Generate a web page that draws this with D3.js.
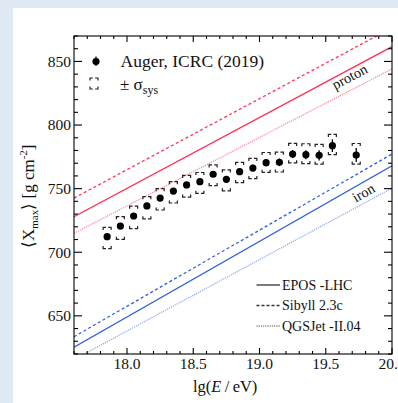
<!DOCTYPE html>
<html><head><meta charset="utf-8">
<script src="https://cdn.jsdelivr.net/npm/d3@7"></script>
<style>
html,body{margin:0;padding:0;background:#dfe9f4;overflow:hidden;}
svg{display:block;}
text{font-family:"Liberation Serif","Times New Roman",serif;fill:#111;}
</style></head>
<body>
<svg id="chart" width="398" height="403"></svg>
<script>
// ---- data ----
const lgE   = [17.85,17.95,18.05,18.15,18.25,18.35,18.45,18.55,18.65,18.75,18.85,18.95,19.05,19.15,19.25,19.35,19.45,19.55,19.73];
const xmax  = [712.2,720.6,728.5,736.4,742.6,748.1,752.9,755.5,761.3,757.3,763.3,766.2,770.4,770.7,777.2,776.7,776.2,783.8,776.4];
const stat  = [2.0,1.6,1.4,1.3,1.3,1.4,1.5,1.7,1.9,2.1,2.3,2.5,2.7,3.0,3.2,3.5,4.0,5.0,5.5];
const sysUp = [7.4,7.4,7.8,7.4,7.4,7.4,7.5,7.2,7.4,7.4,7.4,7.6,8.0,8.0,8.4,8.6,8.6,8.9,9.1];
const sysDn = [9.4,10.5,10.0,10.2,9.4,9.4,9.6,9.2,9.0,9.0,8.6,8.4,7.6,7.6,7.0,7.0,7.0,7.0,7.1];

const modelE = [17.6, 20.0];
const protonEPOS   = [728.0, 861.6];
const protonSibyll = [742.6, 876.5];
const protonQGS    = [714.9, 844.1];
const ironEPOS     = [625.3, 768.0];
const ironSibyll   = [633.6, 777.2];
const ironQGS      = [615.6, 750.4];

const xTicksMajor = [18.0,18.5,19.0,19.5,20.0];
const yTicksMajor = [650,700,750,800,850];
const legendModels = ["EPOS -LHC","Sibyll 2.3c","QGSJet -II.04"];

// ---- layout ----
const svg = d3.select("#chart");
const L=74, T=36, R=392, B=354;
svg.append("rect").attr("x",13).attr("y",8).attr("width",398-13).attr("height",403-8).attr("fill","#fff");

const x = d3.scaleLinear().domain([17.6,20.0]).range([L,R]);
const y = d3.scaleLinear().domain([620,870]).range([B,T]);

svg.append("clipPath").attr("id","clip").append("rect").attr("x",L).attr("y",T).attr("width",R-L).attr("height",B-T);

const red="#ff3358", redL="#ff8a9c", blue="#2f5fe0", blueL="#93aaf0";
const models = [
  {v:protonEPOS,c:red,d:null},
  {v:protonSibyll,c:red,d:"3,2.5"},
  {v:protonQGS,c:redL,d:"1.2,1"},
  {v:ironEPOS,c:blue,d:null},
  {v:ironSibyll,c:blue,d:"3,2.5"},
  {v:ironQGS,c:blueL,d:"1.2,1"}
];
const line = d3.line().x(d=>x(d[0])).y(d=>y(d[1]));
const g = svg.append("g").attr("clip-path","url(#clip)");
models.forEach(m=>{
  g.append("path").attr("d",line(modelE.map((e,i)=>[e,m.v[i]])))
   .attr("fill","none").attr("stroke",m.c).attr("stroke-width",1.3)
   .attr("stroke-dasharray",m.d);
});

// model labels
function slopeAngle(v){
  const dx=x(modelE[1])-x(modelE[0]), dy=y(v[1])-y(v[0]);
  return Math.atan2(dy,dx)*180/Math.PI;
}
svg.append("text").attr("transform",`translate(352,81) rotate(${slopeAngle(protonEPOS)})`)
  .attr("text-anchor","middle").attr("font-size",14.5).text("proton");
svg.append("text").attr("transform",`translate(366,197) rotate(${slopeAngle(ironEPOS)})`)
  .attr("text-anchor","middle").attr("font-size",14.5).text("iron");

// data: sys brackets
function bracket(sel, cx, yt, yb){
  const w=4, h=2.6, a=2.9;
  sel.append("path").attr("d",
    `M${cx-w},${yt+h}V${yt}H${cx-w+a} M${cx+w-a},${yt}H${cx+w}V${yt+h}`+
    `M${cx-w},${yb-h}V${yb}H${cx-w+a} M${cx+w-a},${yb}H${cx+w}V${yb-h}`);
}
const sysG = svg.append("g").attr("stroke","#222").attr("stroke-width",1.2).attr("fill","none");
lgE.forEach((e,i)=>{
  bracket(sysG, x(e), y(xmax[i]+sysUp[i]), y(xmax[i]-sysDn[i]));
});
// stat errors
svg.append("g").selectAll("line").data(lgE).join("line")
  .attr("x1",d=>x(d)).attr("x2",d=>x(d))
  .attr("y1",(d,i)=>y(xmax[i]+stat[i])).attr("y2",(d,i)=>y(xmax[i]-stat[i]))
  .attr("stroke","#000").attr("stroke-width",1.3);
svg.append("g").selectAll("circle").data(lgE).join("circle")
  .attr("cx",d=>x(d)).attr("cy",(d,i)=>y(xmax[i])).attr("r",3.6).attr("fill","#000");

// ---- axes ----
const ax = svg.append("g").attr("stroke","#000").attr("stroke-width",1.1);
ax.append("rect").attr("x",L).attr("y",T).attr("width",R-L).attr("height",B-T).attr("fill","none");
const xMinor = d3.range(176,201).map(d=>d/10);
xMinor.forEach(v=>{
  const major = Math.abs(v*2-Math.round(v*2))<1e-6;
  const len = major?6:3, px=x(v);
  ax.append("line").attr("x1",px).attr("x2",px).attr("y1",B).attr("y2",B-len);
  ax.append("line").attr("x1",px).attr("x2",px).attr("y1",T).attr("y2",T+len);
});
const yMinor = d3.range(620,871,10);
yMinor.forEach(v=>{
  const major = v%50===0;
  const len = major?8:4, py=y(v);
  ax.append("line").attr("x1",L).attr("x2",L+len).attr("y1",py).attr("y2",py);
  ax.append("line").attr("x1",R).attr("x2",R-len).attr("y1",py).attr("y2",py);
});
svg.append("g").selectAll("text").data(xTicksMajor).join("text")
  .attr("x",d=>x(d)).attr("y",369).attr("text-anchor","middle").attr("font-size",15.5)
  .text(d=>d.toFixed(1));
svg.append("g").selectAll("text").data(yTicksMajor).join("text")
  .attr("x",71).attr("y",d=>y(d)+5.3).attr("text-anchor","end").attr("font-size",15.5)
  .text(d=>d);

// axis titles
const xt = svg.append("text").attr("x",193).attr("y",392).attr("font-size",16.5);
xt.append("tspan").text("lg(");
xt.append("tspan").attr("font-style","italic").text("E");
xt.append("tspan").text("\u2009/\u2009eV)");
const yt = svg.append("text").attr("transform","translate(34,248) rotate(-90)").attr("font-size",17);
yt.append("tspan").text("\u27E8X");
yt.append("tspan").attr("font-size",11).attr("dy",4).text("max");
yt.append("tspan").attr("dy",-4).text("\u27E9 [g cm");
yt.append("tspan").attr("font-size",11).attr("dy",-7).text("-2");
yt.append("tspan").attr("dy",7).text("]");

// ---- legend top-left ----
svg.append("line").attr("x1",96).attr("x2",96).attr("y1",56.5).attr("y2",66).attr("stroke","#000").attr("stroke-width",1.3);
svg.append("circle").attr("cx",96).attr("cy",61.5).attr("r",3.6).attr("fill","#000");
svg.append("text").attr("x",120.5).attr("y",67).attr("font-size",17.5).text("Auger, ICRC (2019)");
bracket(svg.append("g").attr("fill","none").attr("stroke","#222").attr("stroke-width",1.2), 94, 78, 89);
const st = svg.append("text").attr("x",120).attr("y",90).attr("font-size",17);
st.append("tspan").text("\u00B1 \u03C3");
st.append("tspan").attr("font-size",12).attr("dy",4).text("sys");

// ---- legend bottom-right ----
const dashes=[null,"3,2","1.2,1"], lcols=["#333","#333","#888"];
legendModels.forEach((t,i)=>{
  const yy = 285 + i*20.5;
  svg.append("line").attr("x1",256.5).attr("x2",280).attr("y1",yy).attr("y2",yy)
    .attr("stroke",lcols[i]).attr("stroke-width",1.3).attr("stroke-dasharray",dashes[i]);
  svg.append("text").attr("x",282).attr("y",yy+4.8).attr("font-size",14).text(t);
});
</script>
</body></html>
